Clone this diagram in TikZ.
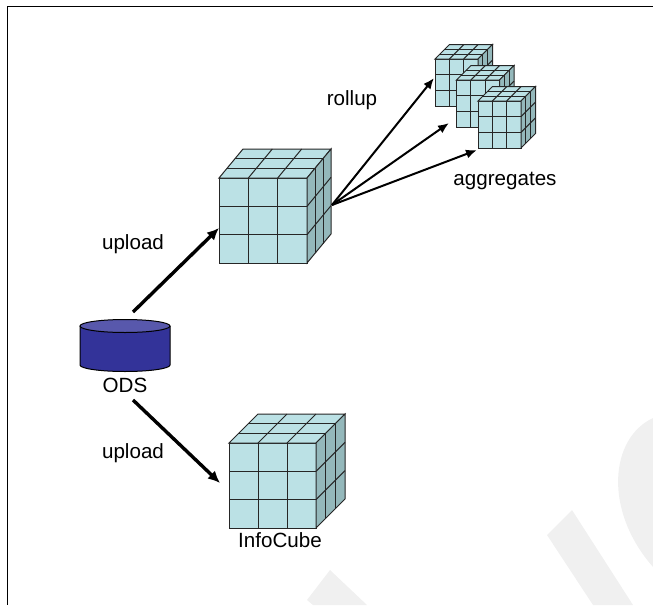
\documentclass[tikz,border=0pt]{standalone}
\usepackage{fontspec}
\setmainfont{Liberation Sans}
\usetikzlibrary{arrows.meta}
\definecolor{cubefront}{RGB}{187,225,229}
\definecolor{cubeside}{RGB}{148,184,187}
\definecolor{odsbody}{RGB}{51,51,153}
\definecolor{odstop}{RGB}{88,88,172}
\definecolor{faintgray}{RGB}{240,240,240}
\tikzset{
  font=\fontsize{10.3}{12}\selectfont,
  cubeline/.style={draw=black!85, line width=0.5pt},
  upflow/.style={draw=black, line width=1.7pt, -{Latex[length=6pt,width=5.5pt]}},
  rollflow/.style={draw=black, line width=1pt, -{Latex[length=5.5pt,width=4.5pt]}},
  lab/.style={inner sep=0pt},
}
% 3x3x3 cube: front top-left (#1,#2), front w #3, h #4, depth (#5,#6)
\newcommand{\gridcube}[6]{%
  \filldraw[cubeline, fill=cubefront] (#1,#2) rectangle ++(#3,#4);
  \filldraw[cubeline, fill=cubefront] (#1,#2) -- ++(#5,-#6) -- ++(#3,0) -- ++(-#5,#6) -- cycle;
  \filldraw[cubeline, fill=cubeside] (#1+#3,#2) -- ++(#5,-#6) -- ++(0,#4) -- ++(-#5,#6) -- cycle;
  \foreach \k in {1,2}{
    \draw[cubeline] ({#1+\k*#3/3},#2) -- ++(0,#4);
    \draw[cubeline] (#1,{#2+\k*#4/3}) -- ++(#3,0);
    \draw[cubeline] ({#1+\k*#3/3},#2) -- ++(#5,-#6);
    \draw[cubeline] ({#1+\k*#5/3},{#2-\k*#6/3}) -- ++(#3,0);
    \draw[cubeline] (#1+#3,{#2+\k*#4/3}) -- ++(#5,-#6);
    \draw[cubeline] ({#1+#3+\k*#5/3},{#2-\k*#6/3}) -- ++(0,#4);
  }%
}

\begin{document}
\begin{tikzpicture}[x=0.5pt,y=-0.5pt]
\useasboundingbox (0,0) rectangle (653,605);
% faint backdrop shapes
\fill[faintgray] (307,600) -- (330,570) -- (367,605) -- (313,605) -- cycle;
\fill[faintgray] (547,535) -- (572,510) -- (633,605) -- (593,605) -- cycle;
\fill[faintgray] (653,418) .. controls (610,438) and (603,510) .. (653,567) -- cycle;
% frame
\draw[line width=0.65pt] (653,6.5) -- (7.5,6.5) -- (7.5,605);

% ODS store
\fill[odsbody] (80,326) -- (80,365) arc[start angle=180, end angle=0, x radius=45, y radius=6.5] -- (170,326) -- cycle;
\draw[line width=0.5pt] (80,326) -- (80,365) arc[start angle=180, end angle=0, x radius=45, y radius=6.5] -- (170,326);
\filldraw[line width=0.5pt, fill=odstop] (125,326) ellipse[x radius=45, y radius=6.5];
\node[lab] (ods) at (125,385.5) {ODS};
\coordinate (ods-up) at (133,312);
\coordinate (ods-down) at (133,400);

% cubes
\gridcube{219}{178}{88}{85}{24}{29}
\gridcube{229}{443}{87}{85}{29}{29}
\gridcube{435}{59}{43}{47}{14.5}{14.5}
\gridcube{456.5}{80}{43}{47}{14.5}{14.5}
\gridcube{478}{101}{43}{47}{14.5}{14.5}
\coordinate (big-in) at (219,228);
\coordinate (big-out) at (332,205);
\coordinate (info-in) at (220,483);
\coordinate (agg1-in) at (434,78);
\coordinate (agg2-in) at (449,123);
\coordinate (agg3-in) at (477,150);

% labels
\node[lab] (upload1) at (133,244) {upload};
\node[lab] (upload2) at (133,453) {upload};
\node[lab] (rollup) at (352,100) {rollup};
\node[lab] (aggregates) at (505,181) {aggregates};
\node[lab] (infocube) at (280,540) {InfoCube};

% flows
\draw[upflow] (ods-up) -- (big-in);
\draw[upflow] (ods-down) -- (info-in);
\draw[rollflow] (big-out) -- (agg1-in);
\draw[rollflow] (big-out) -- (agg2-in);
\draw[rollflow] (big-out) -- (agg3-in);
\end{tikzpicture}
\end{document}
